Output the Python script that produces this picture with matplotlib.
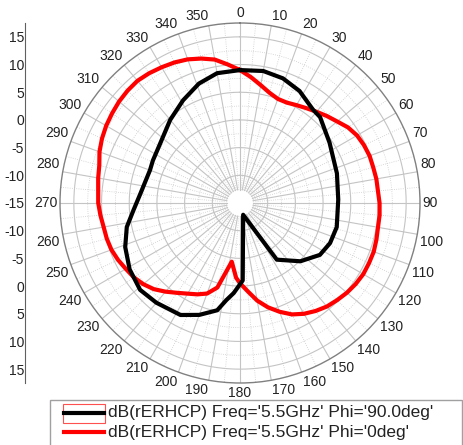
from matplotlib import pyplot as plt
from matplotlib.lines import Line2D
from matplotlib.patches import Rectangle
import numpy as np

plt.rcParams['font.family'] = ['Liberation Sans', 'DejaVu Sans']

# Phi = 90 deg trace (black)
phi90_ang = [0, 10, 19, 28, 38, 43, 56, 73, 88, 104, 114, 123, 134, 147, 165,
             178, 184, 188, 192, 200, 208, 220, 229, 239, 249, 258, 266, 275,
             290, 296, 307, 320, 331, 341, 350, 360]
phi90_db = [9.0, 9.2, 8.8, 7.9, 6.4, 6.2, 4.5, 3.3, 2.75, 3.0, 2.8, 2.2, 0.15, -2.8, -12.8,
            -1.0, 1.3, 2.7, 4.8, 6.5, 7.9, 8.5, 8.9, 8.25, 7.2, 5.9, 4.3, 3.1,
            2.3, 2.5, 3.0, 4.6, 6.2, 7.8, 8.8, 9.0]

# Phi = 0 deg trace (red)
phi0_ang = [0, 5, 10, 15, 20, 25, 30, 35, 40, 45, 50, 55, 60, 65, 70, 75, 80, 85,
            90, 95, 100, 105, 110, 115, 120, 125, 130, 135, 140, 145, 150, 155,
            160, 165, 170, 175, 180, 183, 188, 195, 200, 205, 210, 215, 220, 225,
            230, 235, 240, 245, 250, 255, 260, 265, 270, 275, 280, 285, 290, 295,
            300, 305, 310, 315, 320, 325, 330, 335, 340, 345, 350, 355, 360]
phi0_db = [9.0, 7.8, 6.6, 5.6, 5.0, 5.0, 5.4, 5.9, 6.5, 7.2, 7.9, 8.8, 9.4, 9.7, 9.9, 9.9, 10.0, 10.0,
           10.2, 10.3, 10.3, 10.5, 10.7, 10.7, 10.7, 10.5, 10.2, 9.8, 9.4, 8.8, 8.1, 7.2,
           5.9, 4.5, 2.9, 1.0, -0.5, -1.5, -4.3, 0.8, 2.4, 3.2, 3.9, 4.8, 5.9, 7.0,
           7.8, 8.4, 8.8, 9.3, 9.7, 9.9, 10.0, 10.3, 10.6, 10.7, 11.0, 11.3, 12.0, 12.5,
           12.9, 13.2, 13.5, 13.7, 13.8, 13.6, 13.3, 13.0, 12.6, 12.0, 11.3, 10.1, 9.0]

legend_labels = ["dB(rERHCP) Freq='5.5GHz' Phi='90.0deg'",
                 "dB(rERHCP) Freq='5.5GHz' Phi='0deg'"]
left_ticks = np.arange(-30, 31, 5)

W, H = 464, 445
rmin, rmax, rhole = -15, 17.5, -12.6
txt = '#222222'

fig = plt.figure(figsize=(W / 100, H / 100), dpi=100)
ax = fig.add_axes([60 / W, 1 - 383 / H, 360 / W, 360 / H], projection='polar')
ax.set_theta_zero_location('N')
ax.set_theta_direction(-1)
ax.set_ylim(rmin, rmax)
ax.grid(False)
ax.set_xticks([])
ax.set_yticks([])
ax.spines['polar'].set_color('#808080')
ax.spines['polar'].set_linewidth(1.0)

full = np.linspace(0, 2 * np.pi, 361)
for r in [-10, -5, 0, 5, 10, 15]:
    ax.plot(full, np.full_like(full, r), color='#c4c4c4', lw=0.8, zorder=1)
for r in [-7.5, -2.5, 2.5, 7.5, 12.5]:
    ax.plot(full, np.full_like(full, r), color='#cccccc', lw=0.6, ls=':', zorder=1)
for a in range(0, 360, 5):
    t = np.deg2rad(a)
    if a % 10 == 0:
        ax.plot([t, t], [rhole, rmax], color='#c4c4c4', lw=0.8, zorder=1)
    else:
        ax.plot([t, t], [rhole, rmax], color='#cccccc', lw=0.6, ls=':', zorder=1)

ax.plot(np.deg2rad(phi0_ang), phi0_db, color='#ff0000', lw=3, zorder=3)
ax.plot(np.deg2rad(phi90_ang), phi90_db, color='#000000', lw=3, zorder=4)

for a in range(0, 360, 10):
    s, c = np.sin(np.deg2rad(a)), np.cos(np.deg2rad(a))
    ha = 'left' if s > 0.1 else ('right' if s < -0.1 else 'center')
    va = 'bottom' if c > 0.1 else ('top' if c < -0.1 else 'center')
    ax.annotate(str(a), xy=(np.deg2rad(a), rmax), xytext=(2 * s, 2 * c),
                textcoords='offset points', ha=ha, va=va, fontsize=10,
                color=txt, annotation_clip=False)

# left radial scale
lax = fig.add_axes([25.5 / W, 1 - 383 / H, 0.001, 360 / H])
lax.set_ylim(-(rmax - rmin), rmax - rmin)
lax.set_xticks([])
lax.set_yticks(left_ticks)
lax.set_yticklabels([str(abs(v) + rmin) for v in left_ticks], fontsize=10, color=txt)
lax.tick_params(axis='y', length=0, pad=1)
for side in ['top', 'right', 'bottom']:
    lax.spines[side].set_visible(False)
lax.spines['left'].set_color('#606060')
lax.spines['left'].set_bounds(-(rmax - rmin), rmax - rmin)
lax.patch.set_visible(False)

# legend
fig.add_artist(Rectangle((50 / W, 1 - 447 / H), 412 / W, 47 / H, transform=fig.transFigure,
                         fill=False, edgecolor='#a0a0a0', lw=1))
fig.add_artist(Rectangle((63 / W, 1 - 423 / H), 42 / W, 19 / H, transform=fig.transFigure,
                         fill=False, edgecolor='#ff5050', lw=0.8))
for y, col, lbl in [(413, '#000000', legend_labels[0]), (432, '#ff0000', legend_labels[1])]:
    fig.add_artist(Line2D([64 / W, 104 / W], [1 - y / H, 1 - y / H], transform=fig.transFigure,
                          color=col, lw=3))
    fig.text(108 / W, 1 - y / H, lbl, ha='left', va='center', fontsize=12.5, color=txt)

fig.savefig('out.png', dpi=100)
